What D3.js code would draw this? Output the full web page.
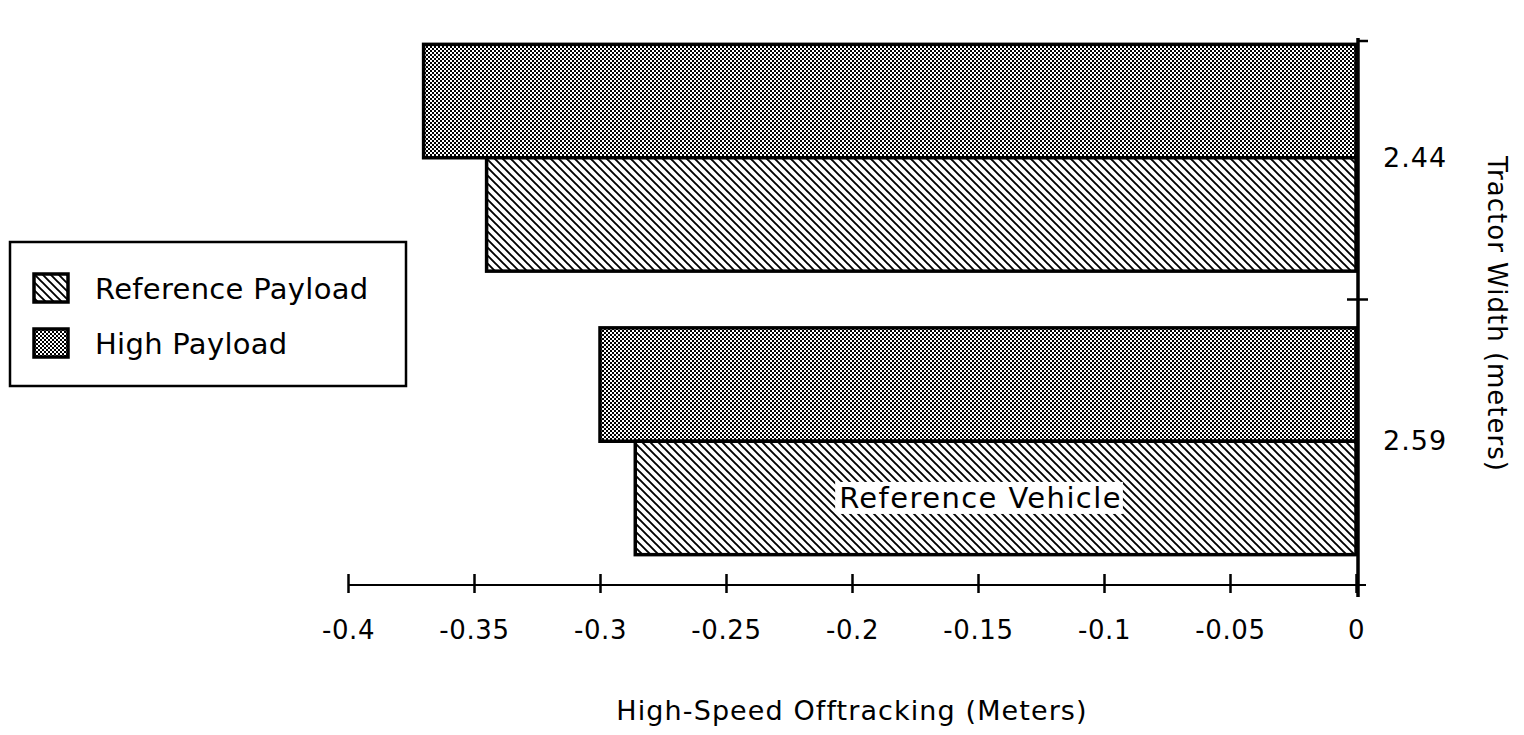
<!DOCTYPE html>
<html>
<head>
<meta charset="utf-8">
<script src="https://cdn.jsdelivr.net/npm/d3@7"></script>
<style>
  html, body { margin: 0; padding: 0; background: #fff; }
  svg { display: block; }
  text { font-family: "DejaVu Sans", "Liberation Sans", sans-serif; fill: #000; }
</style>
</head>
<body>
<svg id="chart" width="1524" height="735"></svg>
<script>
// ---- data ----
const categories = ["2.44", "2.59"];               // tractor width (meters)
const seriesNames = ["High Payload", "Reference Payload"];
const highPayload = [-0.37, -0.3];
const referencePayload = [-0.345, -0.286];
const xTickValues = [-0.4, -0.35, -0.3, -0.25, -0.2, -0.15, -0.1, -0.05, 0];
const xTickLabels = ["-0.4", "-0.35", "-0.3", "-0.25", "-0.2", "-0.15", "-0.1", "-0.05", "0"];
const legendOrder = ["Reference Payload", "High Payload"];
const annotation = { text: "Reference Vehicle", category: "2.59", series: "Reference Payload", value: -0.149 };
const xTitle = "High-Speed Offtracking (Meters)";
const yTitle = "Tractor Width (meters)";

const svg = d3.select("#chart");

// ---- patterns ----
const defs = svg.append("defs");
const hatch = defs.append("pattern").attr("id", "hatch")
  .attr("patternUnits", "userSpaceOnUse").attr("width", 8).attr("height", 8);
hatch.append("rect").attr("width", 8).attr("height", 8).attr("fill", "#fff");
hatch.append("path").attr("d", "M0,0L8,8M-4,4L4,12M4,-4L12,4")
  .attr("stroke", "#000").attr("stroke-width", 1.9);

const dots = defs.append("pattern").attr("id", "dots")
  .attr("patternUnits", "userSpaceOnUse").attr("width", 4).attr("height", 4);
dots.append("rect").attr("width", 4).attr("height", 4).attr("fill", "#fff");
dots.append("rect").attr("x", 0).attr("y", 0).attr("width", 2).attr("height", 2).attr("fill", "#000");
dots.append("rect").attr("x", 2).attr("y", 2).attr("width", 2).attr("height", 2).attr("fill", "#000");

const fills = { "High Payload": "url(#dots)", "Reference Payload": "url(#hatch)" };

// ---- scales ----
const x = d3.scaleLinear().domain([-0.4, 0]).range([348, 1356]);
const y = d3.scaleBand().domain(categories).range([16, 583]).paddingInner(0.2).paddingOuter(0.1);
const ySub = d3.scaleBand().domain(seriesNames).range([0, y.bandwidth()]);

const rows = [];
categories.forEach((c, i) => {
  rows.push({ cat: c, series: "High Payload", value: highPayload[i] });
  rows.push({ cat: c, series: "Reference Payload", value: referencePayload[i] });
});

// ---- bars ----
svg.append("g").selectAll("rect").data(rows).join("rect")
  .attr("x", d => x(d.value))
  .attr("y", d => y(d.cat) + ySub(d.series))
  .attr("width", d => x(0) - x(d.value))
  .attr("height", ySub.bandwidth())
  .attr("fill", d => fills[d.series])
  .attr("stroke", "#000").attr("stroke-width", 3.5);

// ---- annotation ----
const ann = svg.append("g");
const annText = ann.append("text")
  .attr("x", x(annotation.value))
  .attr("y", y(annotation.category) + ySub(annotation.series) + ySub.bandwidth() / 2 + 10)
  .attr("text-anchor", "middle")
  .style("font-size", "29px").style("letter-spacing", "1.4px")
  .text(annotation.text);
const bb = annText.node().getBBox();
ann.insert("rect", "text")
  .attr("x", bb.x - 4).attr("y", bb.y + 1)
  .attr("width", bb.width + 5).attr("height", bb.height - 2)
  .attr("fill", "#fff");

// ---- x axis ----
const axisY = 585;
const xAxis = d3.axisBottom(x).tickValues(xTickValues)
  .tickFormat((d, i) => xTickLabels[i]).tickSize(0).tickPadding(0);
const gx = svg.append("g").attr("transform", `translate(0,${axisY})`).call(xAxis);
gx.select(".domain").remove();
gx.append("line").attr("x1", x(-0.4)).attr("x2", x(0) + 10).attr("y1", 0).attr("y2", 0)
  .attr("stroke", "#000").attr("stroke-width", 2.2);
gx.selectAll(".tick").append("line").attr("y1", -11).attr("y2", 8)
  .attr("stroke", "#000").attr("stroke-width", 2.5);
gx.selectAll(".tick text")
  .attr("y", 54).attr("dy", 0)
  .style("font-size", "26px").style("letter-spacing", "0.6px")
  .attr("font-family", null).attr("fill", "#000");

// ---- y axis (right side) ----
const axisX = x(0) + 2;
const gy = svg.append("g");
gy.append("line").attr("x1", axisX).attr("x2", axisX).attr("y1", 38).attr("y2", 597)
  .attr("stroke", "#000").attr("stroke-width", 3.5);
gy.append("line").attr("x1", axisX).attr("x2", axisX + 10).attr("y1", 41).attr("y2", 41)
  .attr("stroke", "#000").attr("stroke-width", 2.5);
const bounds = categories.slice(1).map(c => y(c) - y.step() * y.paddingInner() / 2);
gy.selectAll(".ytick").data(bounds).join("line")
  .attr("x1", axisX - 11).attr("x2", axisX + 10)
  .attr("y1", d => d).attr("y2", d => d)
  .attr("stroke", "#000").attr("stroke-width", 2.5);
gy.selectAll(".ylab").data(categories).join("text")
  .attr("x", axisX + 25)
  .attr("y", d => y(d) + y.bandwidth() / 2 + 9)
  .style("font-size", "27px").style("letter-spacing", "1px")
  .text(d => d);

// ---- titles ----
svg.append("text").attr("x", x(-0.2)).attr("y", 720).attr("text-anchor", "middle")
  .style("font-size", "27px").style("letter-spacing", "1.1px").text(xTitle);
svg.append("text").attr("transform", "translate(1488,314) rotate(90)").attr("text-anchor", "middle")
  .style("font-size", "26px").style("letter-spacing", "1px").text(yTitle);

// ---- legend ----
const lg = svg.append("g").attr("transform", "translate(10,242)");
lg.append("rect").attr("width", 396).attr("height", 144)
  .attr("fill", "#fff").attr("stroke", "#000").attr("stroke-width", 2.5);
const li = lg.selectAll(".item").data(legendOrder).join("g")
  .attr("transform", (d, i) => `translate(0,${i * 55})`);
li.append("rect").attr("x", 24).attr("y", 32).attr("width", 34).attr("height", 28)
  .attr("fill", d => fills[d]).attr("stroke", "#000").attr("stroke-width", 3.5);
li.append("text").attr("x", 85).attr("y", 57)
  .style("font-size", "29px").style("letter-spacing", "0.3px").text(d => d);
</script>
</body>
</html>
